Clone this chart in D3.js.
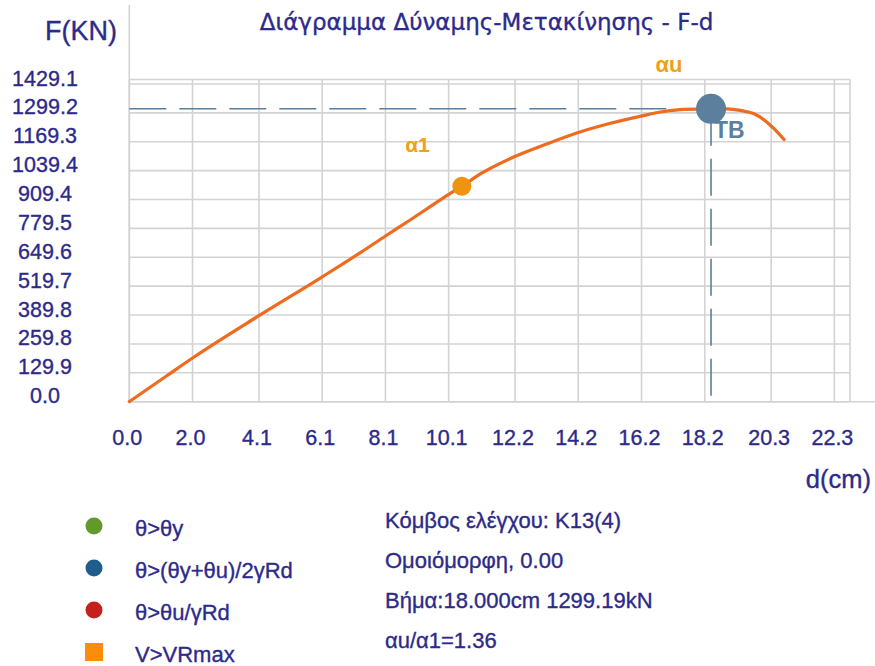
<!DOCTYPE html>
<html>
<head>
<meta charset="utf-8">
<script src="https://cdn.jsdelivr.net/npm/d3@7"></script>
<style>
  html, body { margin: 0; padding: 0; background: #fff; }
  svg { display: block; }
  .navy { stroke: #2c2a8a; stroke-width: 0.35px; }
</style>
</head>
<body>
<svg id="chart" width="875" height="666"></svg>
<script>
// Pushover curve of the control node: displacement (cm) vs base force (kN)
const dispCm  = [0, 1.16, 1.98, 3.96, 5.96, 7.15, 7.94, 8.69, 9.31, 9.91, 10.29, 10.86, 11.89, 12.93,
                 13.87, 14.89, 15.87, 16.54, 17.16, 18.0, 18.5, 18.91, 19.33, 19.64, 19.94, 20.26];
const forceKN = [0, 115, 196, 377, 553, 661, 736, 806, 865, 922, 955.3, 1010, 1085, 1144,
                 1193, 1235, 1268, 1287, 1297, 1299.19, 1299, 1292, 1277, 1250, 1212, 1163];

// axis ticks
const xTickValues = [0, 2.0, 4.1, 6.1, 8.1, 10.1, 12.2, 14.2, 16.2, 18.2, 20.3, 22.3];
const yTickValues = [0, 129.9, 259.8, 389.8, 519.7, 649.6, 779.5, 909.4, 1039.4, 1169.3, 1299.2, 1429.1];

// characteristic points
const firstYieldPoint = { d: 10.29, f: 955.3 };   // α1
const ultimatePoint   = { d: 18.0,  f: 1299.19 }; // αu / TB

// legend and info block
const legendLabels = ["θ>θy", "θ>(θy+θu)/2γRd", "θ>θu/γRd", "V>VRmax"];
const infoLines = ["Κόμβος ελέγχου: K13(4)", "Ομοιόμορφη, 0.00", "Βήμα:18.000cm 1299.19kN", "αu/α1=1.36"];

// ---------------------------------------------------------------------------
const svg = d3.select("#chart");
const W = 875, H = 666;
const pLeft = 129.3, pRight = 850, pTop = 79.5, pBottom = 401.7;
// the grid is laid out in fixed-size cells that stop just inside the frame
const cellW = 64.1, cellH = 28.88;

const textColor = "#2c2a8a";
const gridColor = "#d3d3d3";
const curveColor = "#ee6b1f";
const markerBlue = "#5b7f9d";
const labelOrange = "#f0a015";

const x = d3.scaleLinear().domain([0, d3.max(xTickValues)]).range([pLeft, pRight]);
const y = d3.scaleLinear().domain([0, d3.max(yTickValues)]).range([pBottom, pTop]);
const xGrid = d3.scaleLinear().domain([0, d3.max(xTickValues)])
  .range([pLeft, pLeft + cellW * (xTickValues.length - 1)]);
const yGrid = d3.scaleLinear().domain([0, d3.max(yTickValues)])
  .range([pBottom, pBottom - cellH * (yTickValues.length - 1)]);

const fmt = d3.format(".1f");
const sans = "'Liberation Sans', Arial, sans-serif";

// grid
const grid = svg.append("g").attr("stroke", gridColor).attr("stroke-width", 1.6).attr("fill", "none");
grid.selectAll("line.v").data(xTickValues).join("line").attr("class", "v")
  .attr("x1", d => xGrid(d)).attr("x2", d => xGrid(d))
  .attr("y1", pTop).attr("y2", pBottom);
grid.selectAll("line.h").data(yTickValues).join("line").attr("class", "h")
  .attr("x1", pLeft).attr("x2", pRight)
  .attr("y1", d => yGrid(d)).attr("y2", d => yGrid(d));
// frame and axes
grid.append("line").attr("x1", pLeft).attr("x2", pRight).attr("y1", pTop).attr("y2", pTop);
grid.append("line").attr("x1", pRight).attr("x2", pRight).attr("y1", pTop).attr("y2", pBottom);
grid.append("line").attr("x1", pLeft).attr("x2", pLeft).attr("y1", 5).attr("y2", pBottom);
grid.append("line").attr("x1", pLeft).attr("x2", W).attr("y1", pBottom).attr("y2", pBottom);

// tick labels
svg.append("g").selectAll("text").data(yTickValues).join("text")
  .attr("class", "navy")
  .attr("x", 45).attr("y", d => yGrid(d) + 1.5)
  .attr("text-anchor", "middle")
  .attr("font-family", sans).attr("font-size", 21.5).attr("fill", textColor)
  .text(d => fmt(d));
svg.append("g").selectAll("text").data(xTickValues).join("text")
  .attr("class", "navy")
  .attr("x", d => xGrid(d) - 2).attr("y", 445)
  .attr("text-anchor", "middle")
  .attr("font-family", sans).attr("font-size", 21.5).attr("fill", textColor)
  .text(d => fmt(d));

// axis titles and chart title
svg.append("text").attr("class", "navy").attr("x", 117).attr("y", 40).attr("text-anchor", "end")
  .attr("font-family", sans).attr("font-size", 27).attr("fill", textColor).text("F(KN)");
svg.append("text").attr("class", "navy").attr("x", 871).attr("y", 488).attr("text-anchor", "end")
  .attr("font-family", sans).attr("font-size", 25.5).attr("fill", textColor).text("d(cm)");
svg.append("text").attr("class", "navy").attr("x", 486.5).attr("y", 30).attr("text-anchor", "middle")
  .attr("font-family", "'DejaVu Sans', sans-serif").attr("font-size", 23).attr("fill", textColor)
  .text("Διάγραμμα Δύναμης-Μετακίνησης - F-d");

// crosshair at the ultimate point
const ux = x(ultimatePoint.d), uy = y(ultimatePoint.f);
svg.append("line").attr("x1", pLeft).attr("x2", ux).attr("y1", uy).attr("y2", uy)
  .attr("stroke", markerBlue).attr("stroke-width", 1.6).attr("stroke-dasharray", "37,13");
svg.append("line").attr("x1", ux).attr("x2", ux).attr("y1", uy).attr("y2", pBottom)
  .attr("stroke", markerBlue).attr("stroke-width", 1.6).attr("stroke-dasharray", "37,13");

// capacity curve
const curve = d3.line()
  .x((d, i) => x(dispCm[i]))
  .y((d, i) => y(forceKN[i]))
  .curve(d3.curveMonotoneX);
svg.append("path").datum(forceKN)
  .attr("d", curve)
  .attr("fill", "none").attr("stroke", curveColor).attr("stroke-width", 3.2)
  .attr("stroke-linejoin", "round").attr("stroke-linecap", "round");

// α1 marker
svg.append("circle").attr("cx", x(firstYieldPoint.d)).attr("cy", y(firstYieldPoint.f)).attr("r", 9.5)
  .attr("fill", "#ef9410");
svg.append("text").attr("x", 417.5).attr("y", 152).attr("text-anchor", "middle")
  .attr("font-family", sans).attr("font-weight", "bold").attr("font-size", 21).attr("fill", labelOrange)
  .text("α1");

// TB marker
svg.append("circle").attr("cx", ux).attr("cy", uy).attr("r", 15).attr("fill", markerBlue);
svg.append("text").attr("x", ux + 3).attr("y", 138)
  .attr("font-family", sans).attr("font-weight", "bold").attr("font-size", 23).attr("fill", markerBlue)
  .text("TB");
svg.append("text").attr("x", 669).attr("y", 72).attr("text-anchor", "middle")
  .attr("font-family", sans).attr("font-weight", "bold").attr("font-size", 22).attr("fill", labelOrange)
  .text("αu");

// legend
const legendColor = d3.scaleOrdinal().domain(legendLabels)
  .range(["#63982a", "#1f5d8c", "#c4211d", "#fb8c0c"]);
const rowY = d3.scalePoint().domain(legendLabels).range([535.5, 661.5]);
const legend = svg.append("g");
legendLabels.forEach((lab, i) => {
  const cy = rowY(lab) - 9.5;
  if (i < 3) {
    legend.append("circle").attr("cx", 94).attr("cy", cy).attr("r", 8.5).attr("fill", legendColor(lab));
  } else {
    legend.append("rect").attr("x", 85).attr("y", cy - 9).attr("width", 18).attr("height", 18)
      .attr("fill", legendColor(lab));
  }
  legend.append("text").attr("class", "navy").attr("x", 135).attr("y", rowY(lab))
    .attr("font-family", sans).attr("font-size", 22).attr("fill", textColor).text(lab);
});

// info block
const infoY = d3.scalePoint().domain(infoLines).range([528, 648]);
svg.append("g").selectAll("text").data(infoLines).join("text")
  .attr("class", "navy")
  .attr("x", 385).attr("y", d => infoY(d))
  .attr("font-family", sans).attr("font-size", 22).attr("fill", textColor)
  .text(d => d);
</script>
</body>
</html>
